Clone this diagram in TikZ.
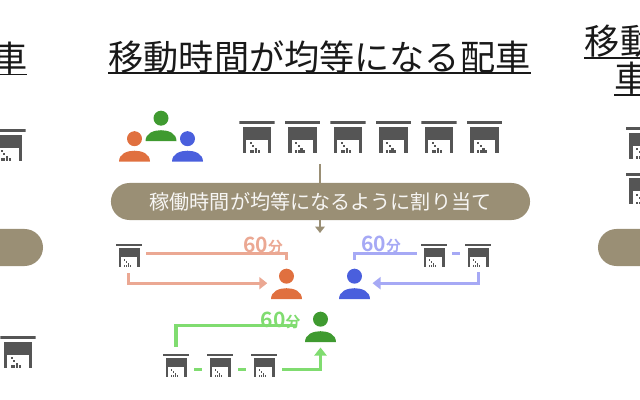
\documentclass[tikz,border=0pt]{standalone}
\usepackage{fontspec}
\setmainfont[BoldFont={Noto Sans CJK JP Bold}]{Noto Sans CJK JP}
\usetikzlibrary{shapes.misc, arrows.meta, positioning, calc}

\begin{document}
\begin{tikzpicture}[
        x=0.025cm, y=-0.025cm,
        every node/.style={inner sep=0pt, outer sep=0pt},
        heading/.style={font=\fontsize{25}{26}\selectfont, text=black!90},
        headline/.style={line width=1.1pt, black!90},
        bar/.style={rounded rectangle, fill=barbrown, minimum height=0.925cm, text=white!92!barbrown, font=\fontsize{14.3}{16}\selectfont},
        desk/.style={minimum width=0.65cm, minimum height=0.575cm, path picture={\deskshape{0.025cm}{-0.025cm}}},
        deskbig/.style={minimum width=0.875cm, minimum height=0.775cm, path picture={\deskshape{0.0337cm}{-0.0337cm}}},
        man/.style={minimum width=0.8cm, minimum height=0.775cm, path picture={\manshape{#1}}},
        mins/.style={font=\fontsize{15}{16}\bfseries\selectfont},
        route/.style={line width=2.2pt, -{Triangle[length=2mm, width=3mm]}},
        plainroute/.style={line width=2.2pt}
    ]
    \definecolor{barbrown}{HTML}{9A8F75}
    \definecolor{deskgray}{HTML}{555555}
    \definecolor{manorange}{HTML}{E0703F}
    \definecolor{mangreen}{HTML}{3F9A30}
    \definecolor{manblue}{HTML}{4A5FDD}
    \definecolor{lineorange}{HTML}{EBA893}
    \definecolor{linegreen}{HTML}{80DC70}
    \definecolor{lineblue}{HTML}{A6A9F5}
    \providecommand{\deskshape}{}
    \renewcommand{\deskshape}[2]{%
        \begin{scope}[shift={(path picture bounding box.center)}, x=#1, y=#2]
            \fill[deskgray] (-13,-11.5) rectangle (13,-9.6);
            \fill[deskgray] (-10.5,-7.5) rectangle (10.5,2);
            \fill[deskgray] (-10.5,2) rectangle (-8,11.5);
            \fill[deskgray] (8,2) rectangle (10.5,11.5);
            \foreach \col/\top in {0/4, 2/6, 4/8, 6/10} {
                \foreach \row in {\top, 10} {
                    \fill[deskgray] (-5.5+\col,\row) rectangle ++(1.5,1.5);
                }
            }
        \end{scope}}
    \providecommand{\manshape}{}
    \renewcommand{\manshape}[1]{%
        \begin{scope}[shift={(path picture bounding box.center)}]
            \fill[#1] (0,-7.8) circle (7.5);
            \fill[#1] (-15.5,15.2) .. controls (-15.5,7) and (-7,4.2) .. (0,4.2) .. controls (7,4.2) and (15.5,7) .. (15.5,15.2) -- cycle;
        \end{scope}}

    \useasboundingbox (0,0) rectangle (640,400);
    \clip (0,0) rectangle (640,400);

    % Headings
    \node[heading] (titlemid) at (319.5,57) {移動時間が均等になる配車};
    \draw[headline] (108,73) -- (531,73);
    \node[heading] (titleleft) at (10,58) {車};
    \draw[headline] (-10,74.5) -- (27,74.5);
    \node[heading] (titlertop) at (620,41) {移動};
    \draw[headline] (584,58) -- (640,58);
    \node[heading] (titlerbot) at (632,78) {車};
    \draw[headline] (614,95) -- (640,95);

    % People and desks on top
    \node[man=manorange] (topa) at (134.5,146.5) {};
    \node[man=mangreen] (topb) at (161,126) {};
    \node[man=manblue] (topc) at (187.5,146.5) {};
    \foreach \i/\x in {1/257, 2/302.5, 3/348, 4/393.5, 5/439, 6/484.5} {
        \node[deskbig] (top\i) at (\x,137) {};
    }

    % Neighbouring columns
    \node[deskbig] (leftup) at (8,145) {};
    \node[deskbig] (leftdown) at (18,352) {};
    \node[deskbig] (rightup) at (643.5,143) {};
    \node[deskbig] (rightdown) at (643.5,188.5) {};
    \node[bar, minimum width=1.6cm] (barleft) at (11,247.5) {};
    \node[bar, minimum width=1.6cm] (barright) at (630,247.5) {};

    % Middle bar
    \coordinate (arrowtop) at (320,164);
    \coordinate (arrowend) at (320,233);
    \draw[line width=1.1pt, barbrown, -{Triangle[length=1.6mm, width=2.4mm]}] (arrowtop) -- (arrowend);
    \node[bar, minimum width=10.475cm] (barmid) at (320.5,201.5) {稼働時間が均等になるように割り当て};

    % Lower people
    \node[man=manorange] (mana) at (286.5,284) {};
    \node[man=manblue] (manb) at (354.5,284) {};
    \node[man=mangreen] (manc) at (320.5,327) {};

    % Orange route
    \node[desk] (da) at (129,255.5) {};
    \draw[plainroute, lineorange, shorten <=0.1cm, shorten >=0.2cm] ([yshift=0.04cm]da.east) -| (mana.north);
    \draw[route, lineorange, shorten <=0.15cm, shorten >=0.08cm] ([xshift=-0.02cm]da.south) |- ([yshift=0.02cm]mana.west);
    \node[mins, text=lineorange] (labela) at (263,245) {60\fontsize{10.5}{12}\selectfont 分};

    % Blue route
    \node[desk] (db) at (434,255.5) {};
    \node[desk] (dc) at (478,255.5) {};
    \draw[plainroute, lineblue, shorten <=0.1cm, shorten >=0.2cm] ([yshift=0.04cm]db.west) -| (manb.north);
    \draw[plainroute, lineblue, shorten <=0.125cm, shorten >=0.125cm] ([yshift=0.04cm]db.east) -- ([yshift=0.04cm]dc.west);
    \draw[route, lineblue, shorten <=0.125cm, shorten >=0.05cm] ([xshift=0.02cm]dc.south) |- ([yshift=0.02cm]manb.east);
    \node[mins, text=lineblue] (labelb) at (381,244) {60\fontsize{10.5}{12}\selectfont 分};

    % Green route
    \node[desk] (dd) at (176,365.5) {};
    \node[desk] (de) at (220,365.5) {};
    \node[desk] (df) at (264,365.5) {};
    \draw[plainroute, linegreen, shorten <=0.175cm, shorten >=0.175cm] (dd.north) |- ([yshift=0.03cm]manc.west);
    \draw[plainroute, linegreen, shorten <=0.125cm, shorten >=0.125cm] ([yshift=-0.09cm]dd.east) -- ([yshift=-0.09cm]de.west);
    \draw[plainroute, linegreen, shorten <=0.125cm, shorten >=0.125cm] ([yshift=-0.09cm]de.east) -- ([yshift=-0.09cm]df.west);
    \draw[route, linegreen, shorten <=0.125cm, shorten >=0.125cm] ([yshift=-0.09cm]df.east) -| (manc.south);
    \node[mins, text=linegreen] (labelc) at (280.5,320) {60\fontsize{10.5}{12}\selectfont 分};

\end{tikzpicture}
\end{document}
